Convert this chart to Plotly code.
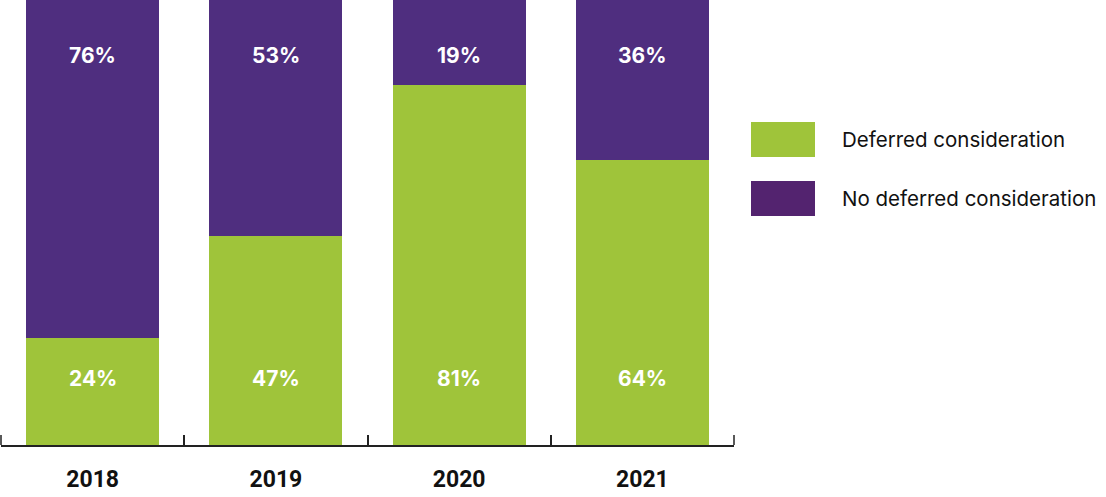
import plotly.graph_objects as go

years = ["2018", "2019", "2020", "2021"]
deferred = [24, 47, 81, 64]
no_deferred = [76, 53, 19, 36]
series_names = ["Deferred consideration", "No deferred consideration"]

GREEN = "#9FC43A"
PURPLE = "#4F2E7F"
PURPLE_LEG = "#53236F"
AXIS = "#222222"

PLOT_L = 1
PLOT_R = 734
PLOT_H = 445
PLOT_W = PLOT_R - PLOT_L

fig = go.Figure()
fig.add_trace(go.Bar(x=years, y=deferred, name=series_names[0],
                     marker=dict(color=GREEN, line=dict(width=0)), showlegend=False))
fig.add_trace(go.Bar(x=years, y=no_deferred, name=series_names[1],
                     marker=dict(color=PURPLE, line=dict(width=0)), showlegend=False))

label_font = dict(family="Inter, Roboto, sans-serif", size=21, color="white", weight="bold")
for i, (d, n) in enumerate(zip(deferred, no_deferred)):
    fig.add_annotation(x=i, y=15, xref="x", yref="y", text=f"{d}%",
                       showarrow=False, font=label_font)
    fig.add_annotation(x=i, y=87.6, xref="x", yref="y", text=f"{n}%",
                       showarrow=False, font=label_font)

# outer boundary ticks (plotly omits them at the axis ends)
for xe in (0, 1):
    fig.add_shape(type="line", xref="paper", yref="paper", x0=xe, x1=xe,
                  y0=0, y1=10 / PLOT_H, line=dict(color=AXIS, width=1.5))

# legend drawn as large swatches
leg_font = dict(family="Inter, Lato, sans-serif", size=20.5, color="#111111")
for i, (nm, col) in enumerate(zip(series_names, [GREEN, PURPLE_LEG])):
    y0 = 122 + i * 59
    fig.add_shape(type="rect", xref="paper", yref="paper",
                  x0=(751 - PLOT_L) / PLOT_W, x1=(815 - PLOT_L) / PLOT_W,
                  y0=1 - (y0 + 35) / PLOT_H, y1=1 - y0 / PLOT_H,
                  fillcolor=col, line=dict(width=0))
    fig.add_annotation(xref="paper", yref="paper", x=(840 - PLOT_L) / PLOT_W,
                       y=1 - (y0 + 17.5) / PLOT_H, text=nm, showarrow=False,
                       xanchor="left", yanchor="middle", font=leg_font)

fig.update_layout(
    barmode="stack",
    bargap=0.275,
    width=1106, height=497,
    margin=dict(l=PLOT_L, r=1106 - PLOT_R, t=0, b=497 - PLOT_H),
    paper_bgcolor="white", plot_bgcolor="white",
    xaxis=dict(type="category", range=[-0.5, 3.5], showline=True, linecolor=AXIS,
               linewidth=1.5, ticks="inside", tickson="boundaries", ticklen=10,
               tickcolor=AXIS, tickwidth=1.5, showgrid=False,
               tickfont=dict(family="Roboto, sans-serif", size=23, color="#111111",
                             weight="bold"),
               ticklabelstandoff=13, automargin=False),
    yaxis=dict(range=[0, 100], visible=False, showgrid=False),
)

fig.write_html("out.html", config={"displayModeBar": False},
               post_script="document.body.style.margin='0';")
